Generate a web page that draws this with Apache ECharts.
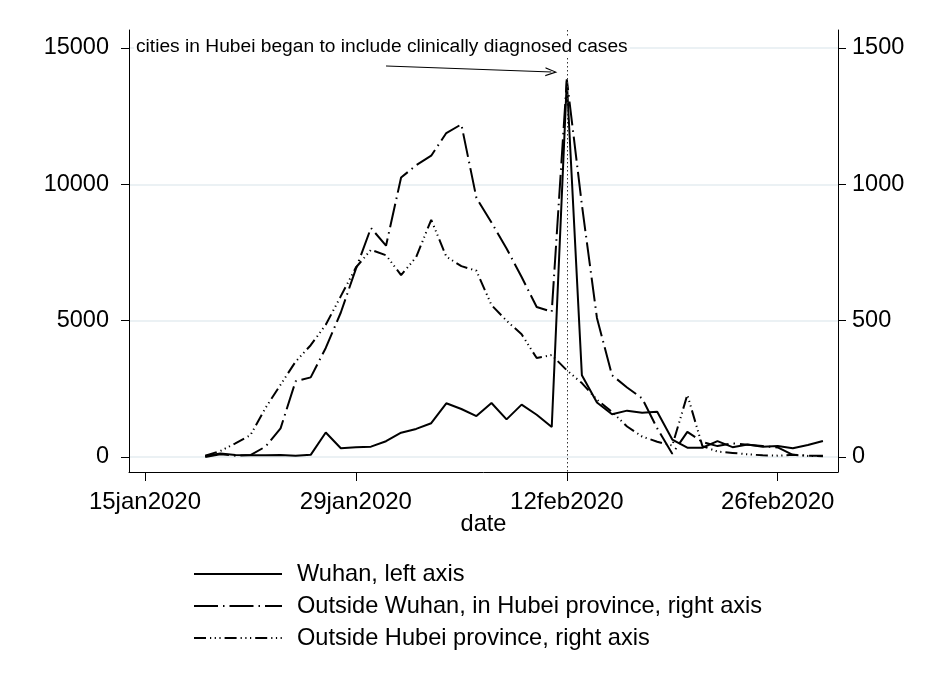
<!DOCTYPE html>
<html>
<head>
<meta charset="utf-8">
<script src="https://cdn.jsdelivr.net/npm/echarts@6/dist/echarts.min.js"></script>
<style>
  html, body { margin: 0; padding: 0; background: #fff; }
  #chart { width: 935px; height: 688px; }
</style>
</head>
<body>
<div id="chart"></div>
<script>
// daily new cases, 19jan2020 .. 29feb2020
const dates = [
  '2020-01-19','2020-01-20','2020-01-21','2020-01-22','2020-01-23','2020-01-24','2020-01-25',
  '2020-01-26','2020-01-27','2020-01-28','2020-01-29','2020-01-30','2020-01-31',
  '2020-02-01','2020-02-02','2020-02-03','2020-02-04','2020-02-05','2020-02-06','2020-02-07',
  '2020-02-08','2020-02-09','2020-02-10','2020-02-11','2020-02-12','2020-02-13','2020-02-14',
  '2020-02-15','2020-02-16','2020-02-17','2020-02-18','2020-02-19','2020-02-20','2020-02-21',
  '2020-02-22','2020-02-23','2020-02-24','2020-02-25','2020-02-26','2020-02-27','2020-02-28',
  '2020-02-29'
];
// left axis
const wuhan = [
  40, 130, 70, 60, 65, 75, 45,
  80, 900, 320, 360, 380, 580,
  890, 1030, 1240, 1970, 1760, 1500, 1980,
  1380, 1920, 1550, 1100, 13800, 3000, 2000,
  1570, 1700, 1620, 1660, 640, 340, 340,
  580, 360, 460, 380, 400, 320, 440,
  590
];
// right axis
const hubeiOther = [
  0, 10, 5, 7, 38, 105, 278,
  292, 400, 530, 690, 840, 775,
  1025, 1070, 1105, 1188, 1220, 950, 860,
  765, 660, 550, 533, 1385, 925, 510,
  300, 255, 215, 105, 12, 92, 55,
  40, 50, 45, 40, 35, 8, 5,
  5
];
// right axis
const outsideHubei = [
  5, 22, 50, 80, 180, 265, 350,
  410, 485, 590, 695, 760, 740,
  667, 733, 870, 735, 700, 683, 557,
  500, 450, 363, 374, 318, 271, 210,
  165, 112, 75, 56, 42, 228, 40,
  20, 15, 10, 6, 5, 8, 4,
  3
];
const seriesNames = ['Wuhan, left axis', 'Outside Wuhan, in Hubei province, right axis', 'Outside Hubei province, right axis'];
const leftTicks = [0, 5000, 10000, 15000];
const rightTicks = [0, 500, 1000, 1500];
const dateTicks = ['2020-01-15', '2020-01-29', '2020-02-12', '2020-02-26'];
const eventDate = '2020-02-12';
const noteText = 'cities in Hubei began to include clinically diagnosed cases';
const arrowFrom = ['2020-01-31', 0, 14340];   // date, hour, value (left axis)
const arrowTo = ['2020-02-10', 23.4, 14120];

const months = ['jan','feb','mar','apr','may','jun','jul','aug','sep','oct','nov','dec'];
const DAY = 86400000;
const ORIGIN = Date.parse('2020-01-15T00:00:00Z');
// x axis is days since 15jan2020
function dayNum(s, h) { return (Date.parse(s + 'T00:00:00Z') - ORIGIN) / DAY + (h || 0) / 24; }
function stataDate(v) {
  const d = new Date(ORIGIN + Math.round(v) * DAY);
  return d.getUTCDate() + months[d.getUTCMonth()] + d.getUTCFullYear();
}

const FONT = '"Liberation Sans", Arial, sans-serif';
const gridColor = '#e4ecf0';
const yMin = -550, yMax = 15660;

const chart = echarts.init(document.getElementById('chart'), null, { renderer: 'canvas' });

function pairs(vals) { return dates.map((d, i) => [dayNum(d), vals[i]]); }

const option = {
  backgroundColor: '#fff',
  animation: false,
  grid: { left: 129, right: 97, top: 30, bottom: 216 },
  xAxis: {
    type: 'value',
    min: -1.06,
    max: dayNum('2020-03-01'),
    name: 'date',
    nameLocation: 'middle',
    nameGap: 40,
    nameMoveOverlap: false,
    nameTextStyle: { fontFamily: FONT, fontSize: 23.6, color: '#000' },
    axisLine: { show: true, onZero: false, lineStyle: { color: '#000', width: 1 } },
    axisTick: { show: true, length: 9, lineStyle: { color: '#000' }, customValues: dateTicks.map(d => dayNum(d)) },
    axisLabel: {
      show: true, margin: 18, fontFamily: FONT, fontSize: 24, color: '#000',
      customValues: dateTicks.map(d => dayNum(d)),
      formatter: v => stataDate(v)
    },
    splitLine: { show: false }
  },
  yAxis: [{
    type: 'value',
    position: 'left',
    min: yMin, max: yMax,
    axisLine: { show: true, onZero: false, lineStyle: { color: '#000', width: 1 } },
    axisTick: { show: true, length: 8, lineStyle: { color: '#000' }, customValues: leftTicks },
    axisLabel: { margin: 20, fontFamily: FONT, fontSize: 23.5, color: '#000', customValues: leftTicks, formatter: v => String(v) },
    splitLine: { show: true, lineStyle: { color: gridColor, width: 1.5 } }
  }, {
    type: 'value',
    position: 'right',
    min: yMin / 10, max: yMax / 10,
    axisLine: { show: true, onZero: false, lineStyle: { color: '#000', width: 1 } },
    axisTick: { show: true, length: 8, lineStyle: { color: '#000' }, customValues: rightTicks },
    axisLabel: { margin: 14, fontFamily: FONT, fontSize: 23.5, color: '#000', customValues: rightTicks, formatter: v => String(v) },
    splitLine: { show: false }
  }],
  legend: {
    orient: 'vertical',
    left: 188,
    top: 556,
    itemWidth: 88,
    itemHeight: 14,
    itemGap: 6,
    itemStyle: { opacity: 0 },
    textStyle: { fontFamily: FONT, fontSize: 23.6, color: '#000', lineHeight: 26, padding: [0, 0, 0, 10] },
    data: seriesNames
  },
  series: [{
    name: seriesNames[0],
    type: 'line',
    yAxisIndex: 0,
    symbol: 'none',
    lineStyle: { color: '#000', width: 2 },
    itemStyle: { color: '#000' },
    data: pairs(wuhan),
    markLine: {
      silent: true,
      animation: false,
      label: { show: false },
      data: [
        [{ coord: [dayNum(eventDate), yMax], symbol: 'none', lineStyle: { type: [1.5, 2.5], color: '#333', width: 1 } },
         { coord: [dayNum(eventDate), yMin], symbol: 'none' }],
        [{ coord: [dayNum(arrowFrom[0], arrowFrom[1]), arrowFrom[2]], symbol: 'none', lineStyle: { type: 'solid', color: '#000', width: 1 } },
         { coord: [dayNum(arrowTo[0], arrowTo[1]), arrowTo[2]], symbol: 'path://M0,10 L5,0 L10,10 L8.6,10 L5,2.6 L1.4,10 Z', symbolSize: [9, 12] }]
      ]
    }
  }, {
    name: seriesNames[1],
    type: 'line',
    yAxisIndex: 1,
    symbol: 'none',
    lineStyle: { color: '#000', width: 2, type: [24, 5, 1.5, 5] },
    itemStyle: { color: '#000' },
    data: pairs(hubeiOther)
  }, {
    name: seriesNames[2],
    type: 'line',
    yAxisIndex: 1,
    symbol: 'none',
    lineStyle: { color: '#000', width: 2, type: [12, 4, 1.2, 3.5, 1.2, 3.5, 1.2, 4] },
    itemStyle: { color: '#000' },
    data: pairs(outsideHubei)
  }],
  graphic: [{
    type: 'text',
    left: 134,
    top: 36,
    z: 100,
    style: {
      text: noteText,
      font: '19.2px ' + FONT,
      fill: '#000',
      backgroundColor: '#fff',
      padding: [1, 2, 1, 2]
    }
  }]
};

chart.setOption(option);
</script>
</body>
</html>
